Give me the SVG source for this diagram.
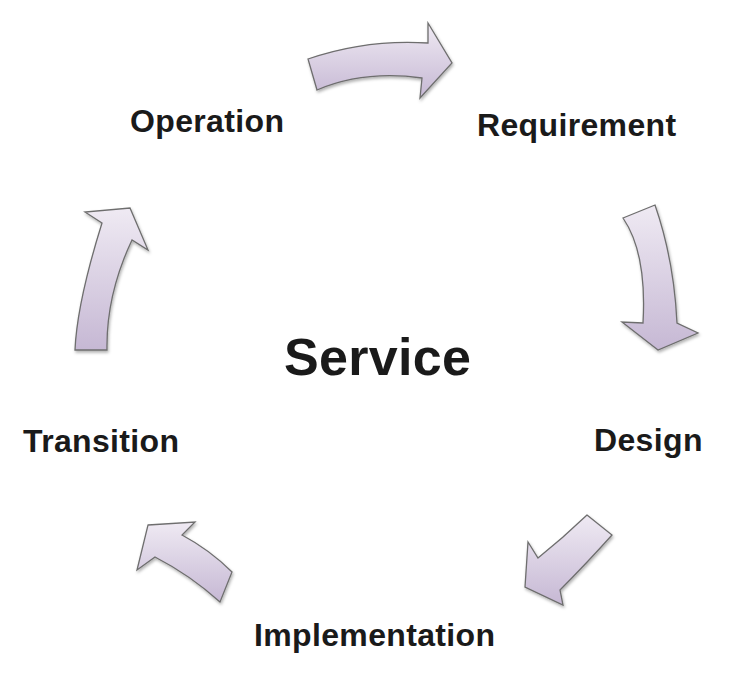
<svg xmlns="http://www.w3.org/2000/svg" width="744" height="694" viewBox="0 0 744 694">
<style>
.arrow{fill:url(#g);stroke:#6e6e6e;stroke-width:1.3;stroke-linejoin:miter;filter:url(#sh)}
.lbl{font-family:"Liberation Sans",Arial,sans-serif;font-weight:bold;font-size:32px;letter-spacing:0.35px;fill:#1a1a1a}
.ctr{font-family:"Liberation Sans",Arial,sans-serif;font-weight:bold;font-size:52px;letter-spacing:0.3px;fill:#1a1a1a}
</style>
<defs>
<linearGradient id="g" x1="0" y1="0" x2="0" y2="1">
<stop offset="0" stop-color="#efeaf3"/>
<stop offset="1" stop-color="#c6b8d4"/>
</linearGradient>
<filter id="sh" x="-20%" y="-20%" width="140%" height="140%">
<feDropShadow dx="1" dy="2" stdDeviation="1.5" flood-color="#000" flood-opacity="0.3"/>
</filter>
</defs>
<rect width="744" height="694" fill="#fff"/>
<g id="connectors">
<path id="a1" class="arrow" d="M308,59 Q366,39 428,43 L428,23 L452,63 L420,98 L422,78 Q364,70 317,90 Z"/>
<path id="a2" class="arrow" d="M623,218 L655,205 Q674,260 677,323 L698,333 L658,350 L622,322 L643,323 Q647,253 623,218 Z"/>
<path id="a3" class="arrow" d="M587,515 L612,535 Q585,565 560,590 L563,605 L525,587 L528,542 L538,558 Q563,538 587,515 Z"/>
<path id="a4" class="arrow" d="M148,525 L195,522 L182,535 Q210,550 232,572 L220,602 Q190,575 155,557 L137,570 Z"/>
<path id="a5" class="arrow" d="M75,350 L107,350 Q106,295 132,240 L148,250 L130,208 L85,212 L102,223 Q77,303 75,350 Z"/>
</g>
<g id="center"><text class="ctr" x="284" y="375">Service</text></g>
<g id="requirement"><text class="lbl" x="477" y="136">Requirement</text></g>
<g id="design"><text class="lbl" x="594" y="451">Design</text></g>
<g id="implementation"><text class="lbl" x="254" y="646">Implementation</text></g>
<g id="transition"><text class="lbl" x="23" y="452">Transition</text></g>
<g id="operation"><text class="lbl" x="130" y="132">Operation</text></g>
</svg>
